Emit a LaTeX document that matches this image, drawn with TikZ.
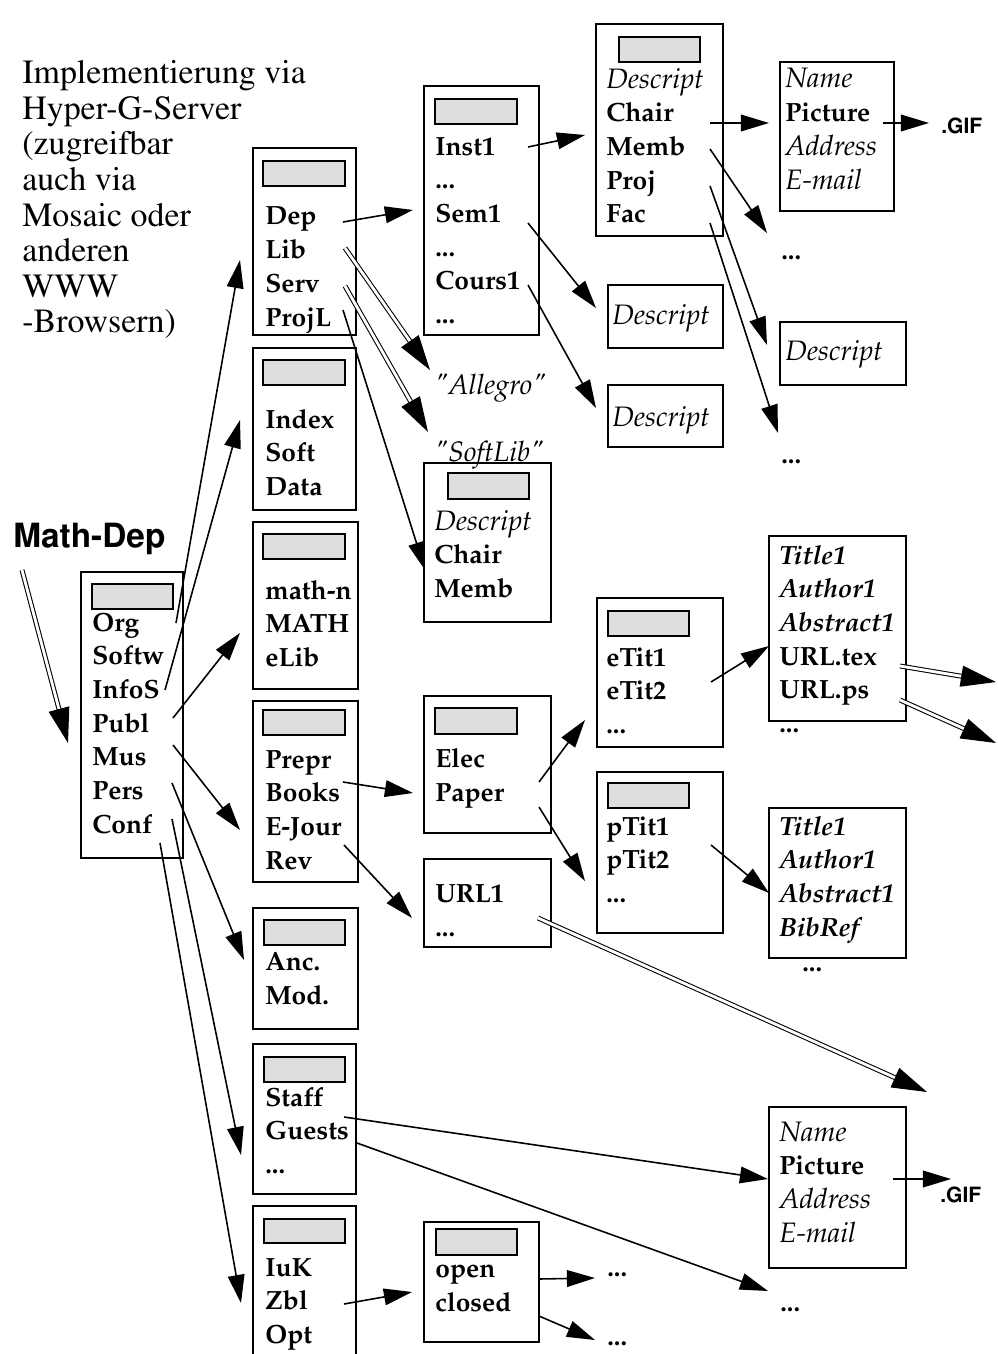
\documentclass[tikz,border=0pt]{standalone}
\usepackage[T1]{fontenc}
\usepackage{mathpazo}
\usetikzlibrary{arrows.meta,fit}

\definecolor{barcol}{gray}{0.87}
\newcommand\ital[1]{{\mdseries\itshape\fontsize{16}{19.2}\selectfont #1}}
\newcommand\bital[1]{{\itshape #1}}

% lbl-Knoten sitzen mit der Grundlinie der letzten Zeile am Punkt
\tikzset{
  box/.style={draw, line width=0.8pt, inner sep=0pt},
  bar/.style={box, fill=barcol},
  lbl/.style={anchor=base west, inner sep=0pt, align=left,
    font=\fontsize{15}{19.2}\selectfont\bfseries},
  arr/.style={line width=0.9pt, -{Triangle[length=16pt,width=9.5pt]}},
  dbl/.style={double, double distance=1.6pt, line width=0.6pt,
    -{Triangle[length=20pt,width=12pt]}},
  gif/.style={anchor=base west, inner sep=0pt,
    font=\fontfamily{phv}\fontsize{12}{14}\selectfont\bfseries},
}

\begin{document}
\begin{tikzpicture}[x=0.02cm, y=-0.02cm]
  \path[use as bounding box] (0,0) rectangle (997,1354);
  \clip (0,0) rectangle (997,1354);

  % Titel
  \node[anchor=base west, inner sep=0pt, align=left,
    font=\fontfamily{ptm}\fontsize{19.3}{20.3}\selectfont] (intro) at (22,333)
    {Implementierung via\\Hyper-G-Server\\(zugreifbar\\auch via\\Mosaic oder\\anderen\\WWW\\-Browsern)};
  \node[anchor=base west, inner sep=0pt,
    font=\fontfamily{phv}\fontsize{19}{22}\selectfont\bfseries] (mathdep) at (13,547) {Math-Dep};

  % Spalte 1
  \node[box, fit={(81,572) (183,858)}] (org) {};
  \node[bar, fit={(92,584) (173,609)}] (org-bar) {};
  \node[lbl] (org-txt) at (92,833.4) {Org\\Softw\\InfoS\\Publ\\Mus\\Pers\\Conf};

  % Spalte 2
  \node[box, fit={(253,148) (356,335)}] (dep) {};
  \node[bar, fit={(263,161) (345,186)}] (dep-bar) {};
  \node[lbl] (dep-txt) at (265,326.2) {Dep\\Lib\\Serv\\ProjL};

  \node[box, fit={(253,348) (356,510)}] (index) {};
  \node[bar, fit={(263,360) (345,385)}] (index-bar) {};
  \node[lbl] (index-txt) at (265,495.5) {Index\\Soft\\Data};

  \node[box, fit={(253,522) (358,689)}] (math) {};
  \node[bar, fit={(263,534) (345,559)}] (math-bar) {};
  \node[lbl] (math-txt) at (265,666.5) {math-n\\MATH\\eLib};

  \node[box, fit={(253,701) (358,882)}] (prepr) {};
  \node[bar, fit={(263,710) (345,735)}] (prepr-bar) {};
  \node[lbl] (prepr-txt) at (265,869.2) {Prepr\\Books\\E-Jour\\Rev};

  \node[box, fit={(253,908) (358,1029)}] (anc) {};
  \node[bar, fit={(264,920) (345,945)}] (anc-bar) {};
  \node[lbl] (anc-txt) at (265,1004.7) {Anc.\\Mod.};

  \node[box, fit={(253,1044) (356,1194)}] (staff) {};
  \node[bar, fit={(264,1057) (345,1082)}] (staff-bar) {};
  \node[lbl] (staff-txt) at (265,1173.5) {Staff\\Guests\\...};

  \node[box, fit={(253,1206) (356,1370)}] (iuk) {};
  \node[bar, fit={(264,1219) (345,1243)}] (iuk-bar) {};
  \node[lbl] (iuk-txt) at (265,1343.5) {IuK\\Zbl\\Opt};

  % Spalte 3
  \node[box, fit={(424,86) (539,335)}] (inst) {};
  \node[bar, fit={(435,99) (517,124)}] (inst-bar) {};
  \node[lbl] (inst-txt) at (435,323.7) {Inst1\\...\\Sem1\\...\\Cours1\\...};

  \node[lbl, font=\fontsize{16}{19.2}\selectfont\itshape] (allegro) at (434,395) {"Allegro"};
  \node[lbl, font=\fontsize{16}{19.2}\selectfont\itshape] (softlib-lbl) at (434,461) {"SoftLib"};

  \node[box, fit={(424,463) (551,622)}] (softlib) {};
  \node[bar, fit={(448,473) (529,499)}] (softlib-bar) {};
  \node[lbl] (softlib-txt) at (434,597.5) {\ital{Descript}\\Chair\\Memb};

  \node[box, fit={(424,696) (551,833)}] (elec) {};
  \node[bar, fit={(435,708) (517,734)}] (elec-bar) {};
  \node[lbl] (elec-txt) at (435,801.7) {Elec\\Paper};

  \node[box, fit={(424,859) (551,947)}] (url) {};
  \node[lbl] (url-txt) at (435,936.7) {URL1\\...};

  \node[box, fit={(424,1222) (539,1342)}] (open) {};
  \node[bar, fit={(436,1229) (517,1255)}] (open-bar) {};
  \node[lbl] (open-txt) at (435,1311.7) {open\\closed};

  % Spalte 4
  \node[box, fit={(596,24) (723,236)}] (chair) {};
  \node[bar, fit={(619,37) (700,62)}] (chair-bar) {};
  \node[lbl] (chair-txt) at (606,223) {\ital{Descript}\\Chair\\Memb\\Proj\\Fac};

  \node[box, fit={(608,285) (723,348)}] (desc1) {};
  \node[lbl] (desc1-txt) at (612,325) {\ital{Descript}};
  \node[box, fit={(608,385) (723,447)}] (desc2) {};
  \node[lbl] (desc2-txt) at (612,426) {\ital{Descript}};

  \node[box, fit={(597,598) (723,747)}] (etit) {};
  \node[bar, fit={(608,611) (689,636)}] (etit-bar) {};
  \node[lbl] (etit-txt) at (606,733.5) {eTit1\\eTit2\\...};

  \node[box, fit={(597,772) (723,933)}] (ptit) {};
  \node[bar, fit={(608,783) (689,808)}] (ptit-bar) {};
  \node[lbl] (ptit-txt) at (606,902.5) {pTit1\\pTit2\\...};

  \node[lbl] (open-dots) at (607,1276) {...};
  \node[lbl] (closed-dots) at (607,1345) {...};

  % Spalte 5
  \node[box, fit={(780,62) (894,211)}] (name1) {};
  \node[lbl] (name1-txt) at (785,189.2) {\ital{Name}\\Picture\\\ital{Address}\\\ital{E-mail}};
  \node[gif] (gif1) at (941,134) {.GIF};

  \node[lbl] (memb-dots) at (781,260) {...};
  \node[box, fit={(780,322) (906,385)}] (descr) {};
  \node[lbl] (descr-txt) at (785,360) {\ital{Descript}};
  \node[lbl] (fac-dots) at (781,463) {...};

  \node[box, fit={(769,536) (906,721)}] (titleA) {};
  \node[lbl] (titleA-txt) at (779,732.7) {\bital{Title1}\\\bital{Author1}\\\bital{Abstract1}\\URL.tex\\URL.ps\\...};

  \node[box, fit={(769,808) (906,958)}] (titleB) {};
  \node[lbl] (titleB-txt) at (779,936.2) {\bital{Title1}\\\bital{Author1}\\\bital{Abstract1}\\\bital{BibRef}};
  \node[lbl] (titleB-dots) at (802,971) {...};

  \node[box, fit={(769,1107) (906,1268)}] (name2) {};
  \node[lbl] (name2-txt) at (779,1242.2) {\ital{Name}\\Picture\\\ital{Address}\\\ital{E-mail}};
  \node[gif] (gif2) at (940,1202) {.GIF};
  \node[lbl] (guests-dots) at (780,1311) {...};

  % Pfeile
  \foreach \n/\x/\y/\u/\v in {
      org/176/623/240/260, infos/165/690/240/420, publ/173/718/240/633,
      mus/173/745/240/830, pers/172/783/244/960, conf/172/819/241/1155,
      confb/160/843/241/1303, depl/343/222/413/210, projl/343/310/425/570,
      inst1/528/147/585/135, sem1/528/223/596/308, cours1/528/285/596/408,
      chairl/710/123/769/123, pic1/883/123/929/123, memb/710/149/767/233,
      proj/710/186/767/345, fac/710/223/778/433, books/343/782/413/793,
      ejour/344/845/412/918, elecl/539/782/585/720, paper/539/807/585/881,
      etit2/711/682/769/646, ptit2/711/845/769/893, staffl/344/1117/768/1179,
      guests/357/1143/768/1291, zbl/344/1304/412/1292, openl/539/1279/595/1278,
      closed/539/1316/595/1340, pic2/893/1179/951/1179} {
    \coordinate (\n-o) at (\x,\y);
    \coordinate (\n-t) at (\u,\v);
    \draw[arr] (\n-o) -- (\n-t);
  }

  \foreach \n/\x/\y/\u/\v in {
      mathdep/22/570/68/743, lib/345/248/430/370, serv/345/286/428/432,
      urltex/900/666/996/682, urlps/900/700/996/743, url1/538/918/927/1092} {
    \coordinate (\n-o) at (\x,\y);
    \coordinate (\n-t) at (\u,\v);
    \draw[dbl] (\n-o) -- (\n-t);
  }
\end{tikzpicture}
\end{document}
